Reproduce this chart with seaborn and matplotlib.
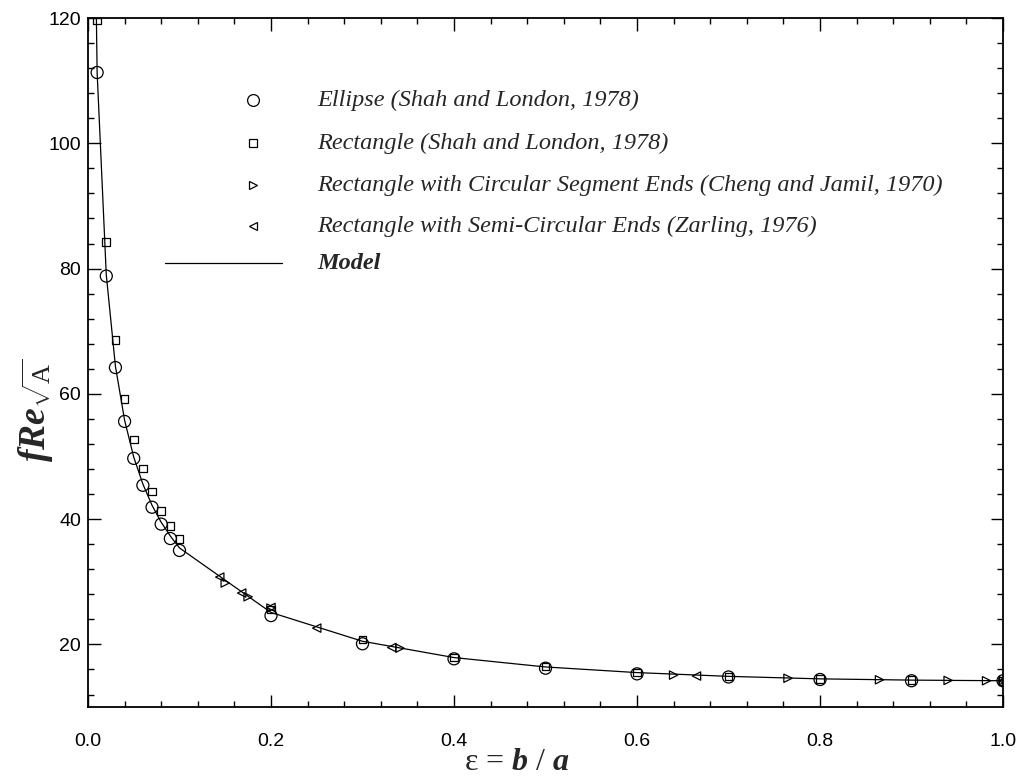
import matplotlib
matplotlib.use("Agg")
import matplotlib.pyplot as plt
import seaborn as sns
from matplotlib.ticker import MultipleLocator

# Ellipse (Shah and London, 1978)
ellipse_eps = [0.01, 0.02, 0.03, 0.04, 0.05, 0.06, 0.07, 0.08, 0.09, 0.10,
               0.2, 0.3, 0.4, 0.5, 0.6, 0.7, 0.8, 0.9, 1.0]
ellipse_fre = [111.3, 78.8, 64.2, 55.6, 49.7, 45.4, 41.9, 39.2, 36.9, 35.0,
               24.6, 20.1, 17.7, 16.2, 15.3, 14.8, 14.4, 14.2, 14.2]

# Rectangle (Shah and London, 1978)
rect_eps = [0.01, 0.02, 0.03, 0.04, 0.05, 0.06, 0.07, 0.08, 0.09, 0.10,
            0.2, 0.3, 0.4, 0.5, 0.6, 0.7, 0.8, 0.9, 1.0]
rect_fre = [119.6, 84.2, 68.6, 59.2, 52.7, 48.1, 44.4, 41.3, 38.9, 36.8,
            25.6, 20.8, 17.9, 16.5, 15.5, 14.9, 14.5, 14.3, 14.2]

# Rectangle with circular segment ends (Cheng and Jamil, 1970)
segment_eps = [0.150, 0.175, 0.2, 0.341, 0.640, 0.765, 0.865, 0.940, 0.982, 1.0]
segment_fre = [29.8, 27.6, 25.8, 19.4, 15.1, 14.6, 14.35, 14.25, 14.2, 14.2]

# Rectangle with semi-circular ends (Zarling, 1976)
semi_eps = [0.144, 0.168, 0.2, 0.25, 0.332, 0.665, 1.0]
semi_fre = [30.75, 28.2, 25.9, 22.6, 19.5, 14.95, 14.2]

# Model
model_eps = [0.009, 0.01, 0.02, 0.03, 0.04, 0.05, 0.06, 0.07, 0.08, 0.09, 0.10,
             0.2, 0.3, 0.4, 0.5, 0.6, 0.7, 0.8, 0.9, 1.0]
model_fre = [122.0, 111.3, 79.0, 64.4, 55.8, 49.9, 45.6, 42.2, 39.5, 37.3, 35.4,
             25.1, 20.5, 17.9, 16.4, 15.5, 14.9, 14.5, 14.3, 14.2]

legend_labels = [
    "Ellipse (Shah and London, 1978)",
    "Rectangle (Shah and London, 1978)",
    "Rectangle with Circular Segment Ends (Cheng and Jamil, 1970)",
    "Rectangle with Semi-Circular Ends (Zarling, 1976)",
    "Model",
]

sns.set_theme(style="ticks")
plt.rcParams["font.family"] = ["Liberation Sans", "DejaVu Sans"]
plt.rcParams["mathtext.fontset"] = "custom"
plt.rcParams["mathtext.rm"] = "Liberation Serif"
plt.rcParams["mathtext.it"] = "Liberation Serif:italic:bold"
plt.rcParams["mathtext.bf"] = "Liberation Serif:bold"

fig = plt.figure(figsize=(10.23, 7.83), dpi=100)
ax = fig.add_axes([0.086, 0.097, 0.8945, 0.88])

sns.lineplot(x=model_eps, y=model_fre, ax=ax, color="black", linewidth=0.9,
             sort=False, estimator=None)
mk = dict(facecolors="none", edgecolors="black", linewidths=0.9, zorder=3)
sns.scatterplot(x=ellipse_eps, y=ellipse_fre, ax=ax, marker="o", s=75, **mk)
sns.scatterplot(x=rect_eps, y=rect_fre, ax=ax, marker="s", s=30, **mk)
sns.scatterplot(x=segment_eps, y=segment_fre, ax=ax, marker=">", s=36, **mk)
sns.scatterplot(x=semi_eps, y=semi_fre, ax=ax, marker="<", s=36, **mk)

ax.set_xlim(0, 1.0)
ax.set_ylim(10, 120)
ax.xaxis.set_major_locator(MultipleLocator(0.2))
ax.xaxis.set_minor_locator(MultipleLocator(0.04))
ax.yaxis.set_major_locator(MultipleLocator(20))
ax.yaxis.set_minor_locator(MultipleLocator(4))
ax.tick_params(which="both", direction="in", top=True, right=True,
               colors="black", labelsize=14, width=1.0)
ax.tick_params(which="major", length=9)
ax.tick_params(which="minor", length=4.5)
ax.tick_params(axis="x", which="major", pad=19)
ax.tick_params(axis="y", which="major", pad=5)
ax.xaxis.set_major_formatter(plt.FuncFormatter(lambda v, p: f"{v:.1f}"))
ax.yaxis.set_major_formatter(plt.FuncFormatter(lambda v, p: f"{v:.0f}"))
for s in ax.spines.values():
    s.set_linewidth(1.3)
    s.set_color("black")

ax.set_ylabel(r"$fRe_{\sqrt{\mathrm{A}}}$", fontsize=27)
ax.yaxis.set_label_coords(-0.036, 0.431)
ax.set_xlabel(r"ε = $b\ /\ a$", fontsize=23, family="Liberation Serif")
ax.xaxis.set_label_coords(0.469, -0.06)

# hand-placed legend keys (axes fraction)
key_x, text_x = 0.1803, 0.2503
rows = [0.881, 0.8186, 0.7576, 0.698, 0.6444]
key_styles = [("o", 8.5), ("s", 5.2), (">", 5.6), ("<", 5.6)]
for (m, ms), yy in zip(key_styles, rows[:4]):
    ax.plot([key_x], [yy], transform=ax.transAxes, marker=m, ms=ms,
            mfc="none", mec="black", mew=0.9, ls="none")
ax.plot([0.0842, 0.212], [rows[4], rows[4]], transform=ax.transAxes,
        color="black", lw=0.9)
for lab, yy in zip(legend_labels, rows):
    ax.text(text_x, yy, lab, transform=ax.transAxes, va="center", ha="left",
            fontsize=17.5, family="Liberation Serif", style="italic",
            weight="bold" if lab == "Model" else "normal")

fig.savefig("out.png", dpi=100, facecolor="white")
